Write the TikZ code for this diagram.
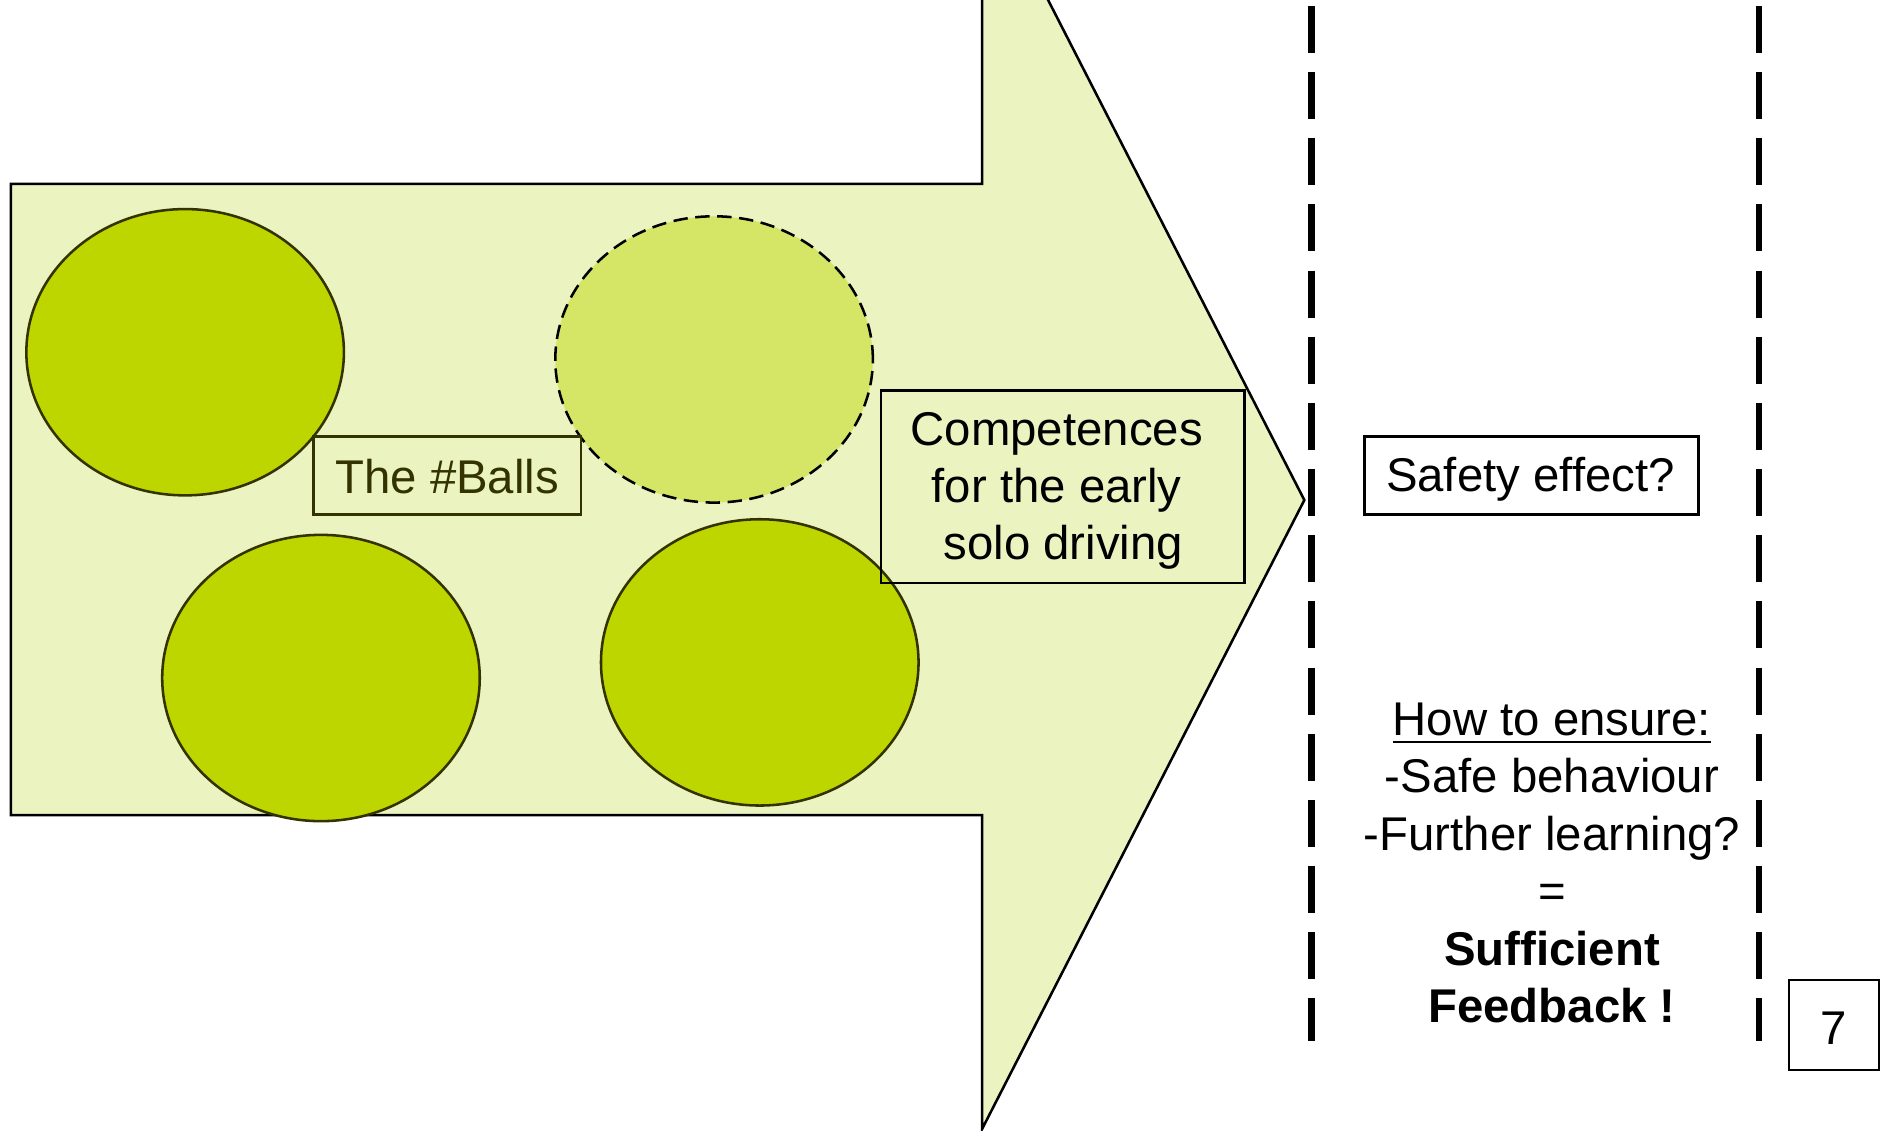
\documentclass[tikz,border=0pt]{standalone}
\usepackage{fontspec}
\setmainfont{Liberation Sans}
\usetikzlibrary{shapes.geometric}
\definecolor{arrowfill}{HTML}{EBF3C1}
\definecolor{ballgreen}{HTML}{BED600}
\definecolor{balllight}{HTML}{D5E565}
\definecolor{olivedark}{HTML}{333300}
\tikzset{
  ball/.style={ellipse, draw=olivedark, line width=0.6pt, fill=ballgreen, inner sep=0pt, minimum width=2.64cm, minimum height=2.38cm},
  ghostball/.style={ellipse, draw=black, line width=0.6pt, dash pattern=on 3.4pt off 1.8pt, fill=balllight, inner sep=0pt, minimum width=2.64cm, minimum height=2.38cm},
  labelbox/.style={draw, line width=0.6pt, inner sep=0pt},
  labeltext/.style={inner sep=0pt, align=center, font=\fontsize{11.2}{13.5}\selectfont},
  divider/.style={line width=1.5pt, dash pattern=on 11.1pt off 4.55pt},
}
\begin{document}
\begin{tikzpicture}[x=0.01cm, y=-0.01cm]
\useasboundingbox (0,0) rectangle (1568,940);
\begin{scope}
\clip (0,0) rectangle (1568,940);
\draw[fill=arrowfill, line width=0.6pt] (9,153) -- (817,153) -- (817,-107) -- (1085,416) -- (817,939) -- (817,678) -- (9,678) -- cycle;
\end{scope}
\node[ball] (b1) at (154,293) {};
\node[ghostball] (b2) at (594,299) {};
\node[ball] (b3) at (267,564) {};
\node[ball] (b4) at (632,551) {};
\node[labelbox, draw=olivedark, minimum width=63.2pt, minimum height=18.5pt] (balls) at (372,395.5) {};
\node[labeltext, text=olivedark] (ballstext) at ([yshift=-0.01cm]balls.center) {The \#Balls};
\node[labelbox, minimum width=85.9pt, minimum height=45.5pt] (comp) at (884,405) {};
\node[labeltext] (comptext) at ([xshift=-0.05cm, yshift=-0.035cm]comp.center) {Competences\\for the early\\\ solo driving};
\node[labelbox, fill=white, minimum width=79.1pt, minimum height=18.5pt] (safety) at (1274,395.5) {};
\node[labeltext] (safetytext) at ([xshift=-0.01cm, yshift=-0.035cm]safety.center) {Safety effect?};
\coordinate (d1top) at (1091,5);
\coordinate (d1bot) at (1091,866);
\coordinate (d2top) at (1463,5);
\coordinate (d2bot) at (1463,866);
\draw[divider] (d1top) -- (d1bot);
\draw[divider] (d2top) -- (d2bot);
\node[align=center, font=\fontsize{11.2}{13.6}\selectfont] (ensure) at (1291,718) {\underline{How to ensure:}\\-Safe behaviour\\-Further learning?\\=\\\textbf{Sufficient}\\\textbf{Feedback !}};
\node[labelbox, minimum width=21.3pt, minimum height=21.3pt] (page) at (1525.5,852.5) {};
\node[labeltext] (pagetext) at ([yshift=-0.025cm]page.center) {7};
\end{tikzpicture}
\end{document}
